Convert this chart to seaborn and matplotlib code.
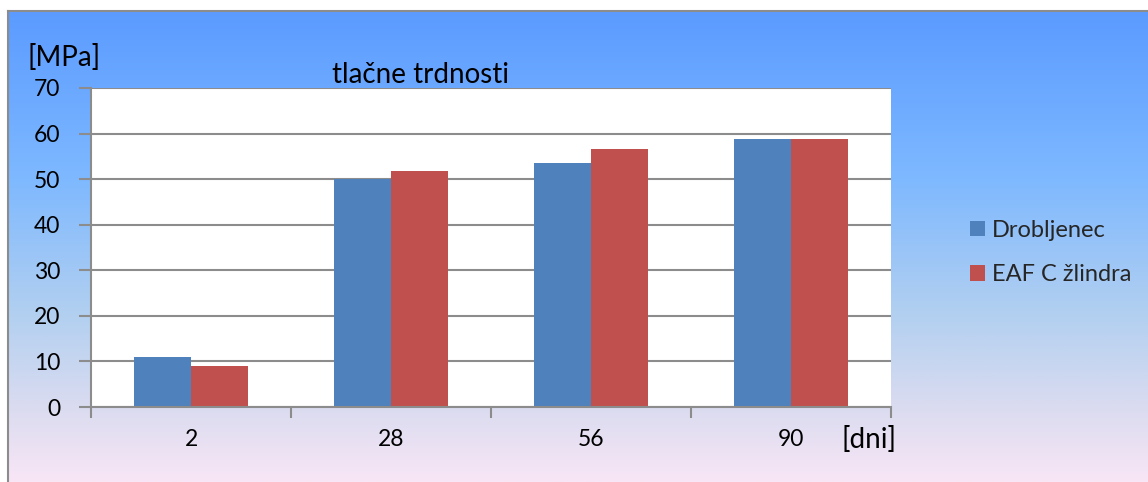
import numpy as np
import pandas as pd
import matplotlib
matplotlib.use("Agg")
import matplotlib.pyplot as plt
import seaborn as sns
from matplotlib.colors import LinearSegmentedColormap

days = ["2", "28", "56", "90"]
series_names = ["Drobljenec", "EAF C žlindra"]
drobljenec = [11.0, 50.0, 53.5, 58.7]
eaf = [9.1, 51.8, 56.6, 58.7]
title = "tlačne trdnosti"
y_label = "[MPa]"
x_label = "[dni]"
colors = ["#4F81BD", "#C0504D"]

df = pd.DataFrame({
    "dan": days * 2,
    "vrednost": drobljenec + eaf,
    "serija": [series_names[0]] * len(days) + [series_names[1]] * len(days),
})

sns.set_theme(style="white")
plt.rcParams["font.family"] = ["Lato", "DejaVu Sans"]

W, H = 1148, 482
fig = plt.figure(figsize=(W / 100, H / 100), dpi=100)
fig.patch.set_facecolor("white")

# background gradient
bg = fig.add_axes([8 / W, 0, 1 - 8 / W, 1 - 11 / H], zorder=0)
cmap = LinearSegmentedColormap.from_list(
    "bg", [(0, "#5B9BFF"), (0.35, "#7DB8FF"), (0.65, "#B3D0F0"), (0.85, "#DCDCF0"), (1, "#F8E6F6")])
grad = np.linspace(0, 1, 256).reshape(-1, 1)
bg.imshow(grad, aspect="auto", cmap=cmap, extent=[0, 1, 0, 1], origin="upper")
bg.set_xlim(0, 1); bg.set_ylim(0, 1)
bg.set_xticks([]); bg.set_yticks([])
for s in ["top", "left"]:
    bg.spines[s].set_color("#8C8C8C"); bg.spines[s].set_linewidth(1.5)
for s in ["bottom", "right"]:
    bg.spines[s].set_visible(False)

ax = fig.add_axes([91 / W, 1 - 407 / H, 800 / W, 319 / H], zorder=2)
ax.set_facecolor("white")
sns.barplot(data=df, x="dan", y="vrednost", hue="serija", palette=colors,
            width=0.57, gap=0, ax=ax, saturation=1, legend=True,
            edgecolor="none")
ax.set_ylim(0, 70)
ax.set_xlim(-0.5, 3.5)
ax.set_yticks(range(0, 71, 10))
ax.yaxis.grid(True, color="#8C8C8C", linewidth=1.5)
ax.set_axisbelow(True)
ax.set_xlabel(""); ax.set_ylabel("")
for s in ["top", "right"]:
    ax.spines[s].set_visible(False)
for s in ["left", "bottom"]:
    ax.spines[s].set_color("#8C8C8C"); ax.spines[s].set_linewidth(1.5)
ax.tick_params(axis="y", which="major", direction="out", length=9, width=1.5,
               color="#8C8C8C", labelsize=16.5, labelcolor="black", pad=13, left=True)
ax.tick_params(axis="x", which="major", length=0, labelsize=16.5, labelcolor="black", pad=16)
ax.set_xticks([-0.5, 0.5, 1.5, 2.5, 3.5], minor=True)
ax.tick_params(axis="x", which="minor", direction="out", length=8, width=1.5,
               color="#8C8C8C", bottom=True)

leg = ax.legend(loc="upper left", bbox_to_anchor=(958 / W, 1 - 208 / H),
                bbox_transform=fig.transFigure, frameon=False, fontsize=17,
                handlelength=0.65, handleheight=0.65, handletextpad=0.3,
                labelspacing=1.0, borderpad=0)

fig.text(332 / W, 1 - 75 / H, title, fontsize=20, va="center", ha="left", color="black")
fig.text(28 / W, 1 - 58 / H, y_label, fontsize=20, va="center", ha="left", color="black")
fig.text(841 / W, 1 - 440 / H, x_label, fontsize=20, va="center", ha="left", color="black")

fig.savefig("out.png", dpi=100)
